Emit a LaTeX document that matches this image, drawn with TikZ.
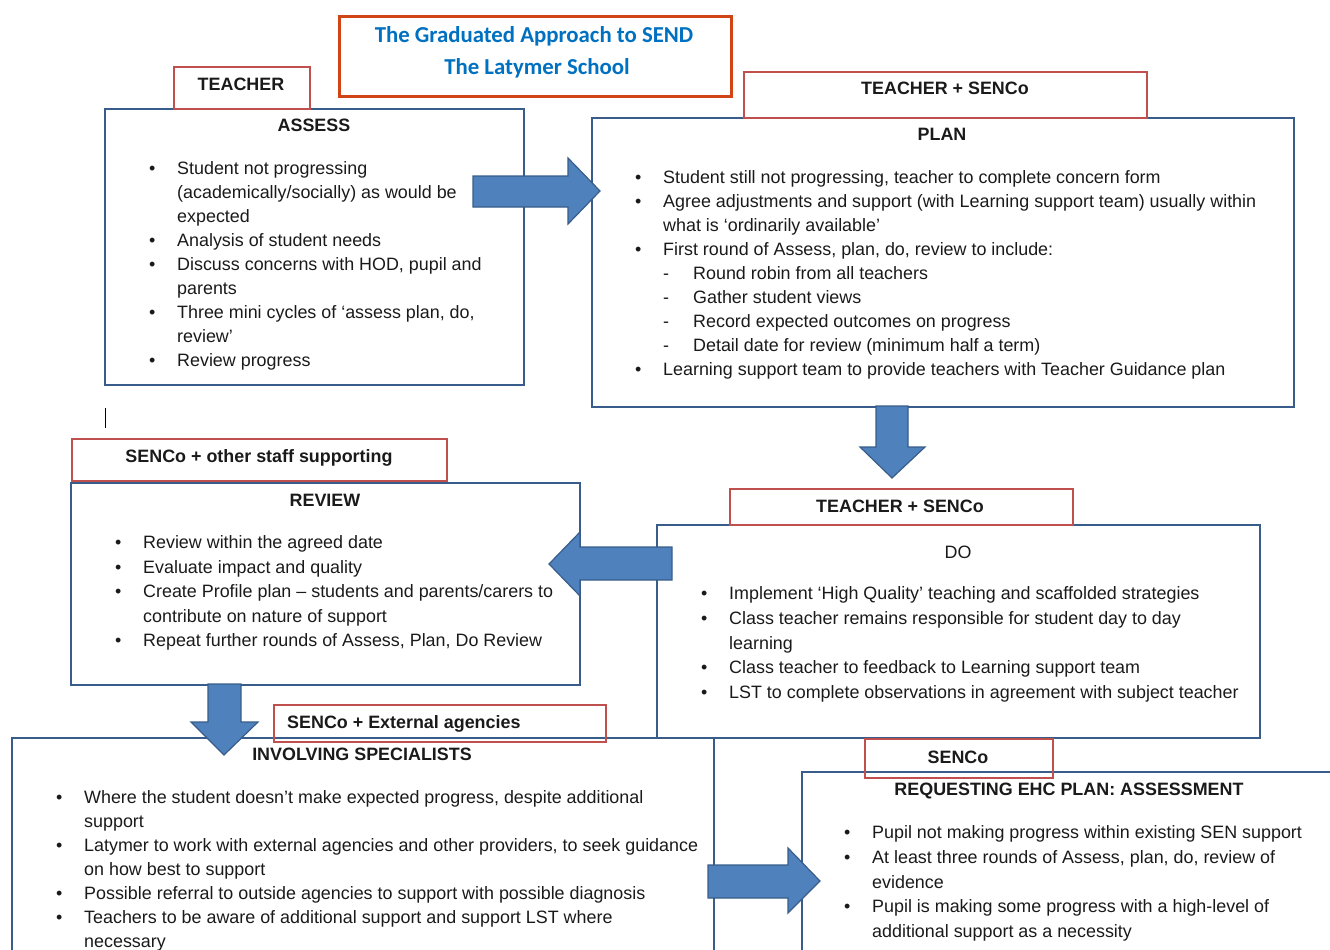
\documentclass[tikz,border=0pt]{standalone}
\usepackage{fontspec}
\setmainfont{Liberation Sans}
\newfontfamily\titlefont{Carlito}
\definecolor{boxblue}{RGB}{56,93,138}
\definecolor{lblred}{RGB}{192,80,77}
\definecolor{titlered}{RGB}{208,68,22}
\definecolor{arrowblue}{RGB}{79,129,189}
\definecolor{arrowedge}{RGB}{56,93,138}
\definecolor{titleblue}{RGB}{0,112,192}
\definecolor{txt}{RGB}{26,26,26}
\newcommand\bl{\makebox[28pt][l]{\textbullet}}
\newcommand\nb{\hspace*{28pt}}
\newcommand\dl{\hspace*{28pt}\makebox[30pt][l]{-}}
\newcommand\fs{\rule{0pt}{16pt}}
\begin{document}
\begin{tikzpicture}[x=1pt,y=-1pt,
  bluebox/.style={draw=boxblue, line width=2.2pt, inner sep=0pt, anchor=north west},
  redlbl/.style={draw=lblred, line width=2pt, inner sep=0pt, anchor=north west},
  titlebox/.style={draw=titlered, line width=2.6pt, inner sep=0pt, anchor=north west},
  body/.style={anchor=north west, inner sep=0pt, align=left, text=txt},
  head/.style={anchor=base, inner sep=0pt, text=txt, font=\bfseries\fontsize{17.9}{24}\selectfont},
  lbltext/.style={anchor=base, inner sep=0pt, text=txt, font=\bfseries\fontsize{17.9}{24}\selectfont},
  ttext/.style={anchor=base, inner sep=0pt, text=titleblue, font=\titlefont\bfseries\fontsize{22.8}{28}\selectfont},
  blockarrow/.style={fill=arrowblue, draw=arrowedge, line width=1.2pt, line join=miter}]
\useasboundingbox (0,0) rectangle (1330,950);
\clip (0,0) rectangle (1330,950);

% main boxes
\node[bluebox, minimum width=419pt, minimum height=276pt] (assess) at (104,108) {};
\node[bluebox, minimum width=702pt, minimum height=289pt] (plan) at (591,117) {};
\node[bluebox, minimum width=509pt, minimum height=202pt] (review) at (70,482) {};
\node[bluebox, minimum width=603pt, minimum height=213pt] (do) at (656,524) {};
\node[bluebox, minimum width=702pt, minimum height=240pt] (spec) at (11,737) {};
\node[bluebox, minimum width=560pt, minimum height=220pt] (ehc) at (801,771) {};

% label boxes
\node[titlebox, minimum width=392pt, minimum height=80pt] (title) at (338,15) {};
\node[redlbl, minimum width=136pt, minimum height=42pt] (lassess) at (173,66) {};
\node[redlbl, minimum width=403pt, minimum height=46pt] (lplan) at (743,71) {};
\node[redlbl, minimum width=375pt, minimum height=42pt] (lreview) at (71,438) {};
\node[redlbl, minimum width=343pt, minimum height=36pt] (ldo) at (729,488) {};
\node[redlbl, minimum width=332pt, minimum height=37pt] (lspec) at (273,704) {};
\node[redlbl, minimum width=188pt, minimum height=39pt] (lehc) at (864,738) {};

% title
\node[ttext] (t1) at (534,42.5) {The Graduated Approach to SEND};
\node[ttext] (t2) at (537,74.5) {The Latymer School};

% label texts
\node[lbltext] (lassesst) at (241,90.4) {TEACHER};
\node[lbltext] (lplant) at (945,94.4) {TEACHER + SENCo};
\node[lbltext] (lreviewt) at (259,462.4) {SENCo + other staff supporting};
\node[lbltext] (ldot) at (900,512.4) {TEACHER + SENCo};
\node[lbltext, anchor=base west] (lspect) at (287,728.4) {SENCo + External agencies};
\node[lbltext] (lehct) at (958,763.4) {SENCo};

% headings
\node[head] (hassess) at (314,131.4) {ASSESS};
\node[head] (hplan) at (942,140.4) {PLAN};
\node[head] (hreview) at (325,506.4) {REVIEW};
\node[head, font=\fontsize{17.9}{24}\selectfont] (hdo) at (958,558.4) {DO};
\node[head] (hspec) at (362,760.4) {INVOLVING SPECIALISTS};
\node[head] (hehc) at (1069,795.4) {REQUESTING EHC PLAN: ASSESSMENT};

% bodies
\node[body, font=\fontsize{17.9}{24}\selectfont] (bassess) at (149,158.5) {%
\fs\bl Student not progressing\\
\nb (academically/socially) as would be\\
\nb expected\\
\bl Analysis of student needs\\
\bl Discuss concerns with HOD, pupil and\\
\nb parents\\
\bl Three mini cycles of ‘assess plan, do,\\
\nb review’\\
\bl Review progress};

\node[body, font=\fontsize{17.9}{24}\selectfont] (bplan) at (635,167.5) {%
\fs\bl Student still not progressing, teacher to complete concern form\\
\bl Agree adjustments and support (with Learning support team) usually within\\
\nb what is ‘ordinarily available’\\
\bl First round of Assess, plan, do, review to include:\\
\dl Round robin from all teachers\\
\dl Gather student views\\
\dl Record expected outcomes on progress\\
\dl Detail date for review (minimum half a term)\\
\bl Learning support team to provide teachers with Teacher Guidance plan};

\node[body, font=\fontsize{17.9}{24.5}\selectfont] (breview) at (115,532.5) {%
\fs\bl Review within the agreed date\\
\bl Evaluate impact and quality\\
\bl Create Profile plan – students and parents/carers to\\
\nb contribute on nature of support\\
\bl Repeat further rounds of Assess, Plan, Do Review};

\node[body, font=\fontsize{17.9}{24.75}\selectfont] (bdo) at (701,583.5) {%
\fs\bl Implement ‘High Quality’ teaching and scaffolded strategies\\
\bl Class teacher remains responsible for student day to day\\
\nb learning\\
\bl Class teacher to feedback to Learning support team\\
\bl LST to complete observations in agreement with subject teacher};

\node[body, font=\fontsize{17.9}{24}\selectfont] (bspec) at (56,787.5) {%
\fs\bl Where the student doesn’t make expected progress, despite additional\\
\nb support\\
\bl Latymer to work with external agencies and other providers, to seek guidance\\
\nb on how best to support\\
\bl Possible referral to outside agencies to support with possible diagnosis\\
\bl Teachers to be aware of additional support and support LST where\\
\nb necessary};

\node[body, font=\fontsize{17.9}{24.75}\selectfont] (behc) at (844,822.5) {%
\fs\bl Pupil not making progress within existing SEN support\\
\bl At least three rounds of Assess, plan, do, review of\\
\nb evidence\\
\bl Pupil is making some progress with a high-level of\\
\nb additional support as a necessity};

% text cursor mark
\draw[line width=1pt, black] (105,408) -- (105,428);

% block arrows
\draw[blockarrow] (473,176) -- (568,176) -- (568,158) -- (600,191) -- (568,224) -- (568,207) -- (473,207) -- cycle;
\draw[blockarrow] (876,406) -- (908,406) -- (908,447) -- (925,447) -- (892,478) -- (860,447) -- (876,447) -- cycle;
\draw[blockarrow] (672,547) -- (580,547) -- (580,532) -- (549,564) -- (580,596) -- (580,580) -- (672,580) -- cycle;
\draw[blockarrow] (208,684) -- (241,684) -- (241,722) -- (258,722) -- (224,755) -- (191,722) -- (208,722) -- cycle;
\draw[blockarrow] (708,865) -- (788,865) -- (788,848) -- (820,881) -- (788,913) -- (788,898) -- (708,898) -- cycle;
\end{tikzpicture}
\end{document}
